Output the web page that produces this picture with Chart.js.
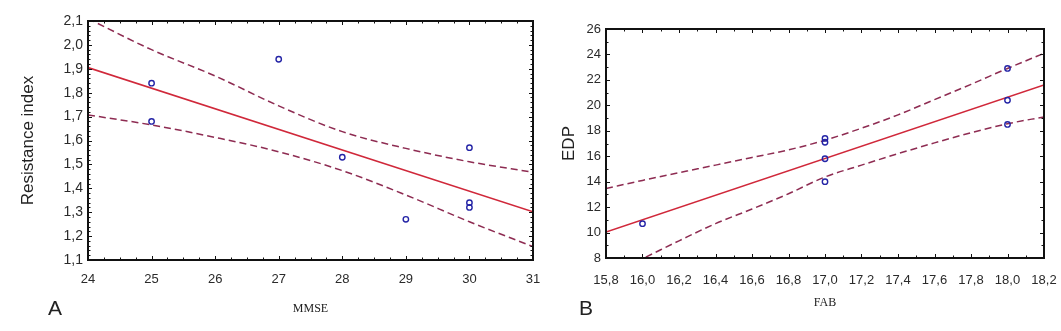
<!DOCTYPE html>
<html>
<head>
<meta charset="utf-8">
<script src="https://cdn.jsdelivr.net/npm/chart.js@4.4.1/dist/chart.umd.min.js"></script>
<style>
  html, body { margin:0; padding:0; background:#fff; }
  #wrap { position:relative; width:1061px; height:331px; overflow:hidden; background:#fff; }
  canvas { position:absolute; top:0; }
  #cA { left:0; }
  #cB { left:540px; }
  .lbl { position:absolute; font-family:"Liberation Sans", Arial, sans-serif; font-size:21px; color:#222; line-height:1; }
</style>
</head>
<body>
<div id="wrap">
  <canvas id="cA" width="540" height="331"></canvas>
  <canvas id="cB" width="521" height="331"></canvas>
  <div class="lbl" style="left:48px; top:297px;">A</div>
  <div class="lbl" style="left:579px; top:297px;">B</div>
</div>
<script>
// ---------- Panel A data ----------
const mmse = [25, 25, 27, 28, 29, 30, 30, 30];
const resistanceIndex = [1.84, 1.68, 1.94, 1.53, 1.27, 1.57, 1.34, 1.32];
const fitAX = [24, 31];
const fitAY = [1.905, 1.302];
const bandAX = [24, 25, 26, 27, 28, 29, 30, 31];
const upperA = [2.11, 1.98, 1.87, 1.745, 1.637, 1.567, 1.511, 1.467];
const lowerA = [1.707, 1.665, 1.613, 1.553, 1.474, 1.372, 1.26, 1.156];
const xTicksA = [24, 25, 26, 27, 28, 29, 30, 31];
const xTickLabelsA = ['24', '25', '26', '27', '28', '29', '30', '31'];
const yTicksA = [1.1, 1.2, 1.3, 1.4, 1.5, 1.6, 1.7, 1.8, 1.9, 2.0, 2.1];
const yTickLabelsA = ['1,1', '1,2', '1,3', '1,4', '1,5', '1,6', '1,7', '1,8', '1,9', '2,0', '2,1'];

// ---------- Panel B data ----------
const fab = [16.0, 17.0, 17.0, 17.0, 17.0, 18.0, 18.0, 18.0];
const edp = [10.7, 17.4, 17.1, 15.8, 14.0, 22.9, 20.4, 18.5];
const fitBX = [15.8, 18.2];
const fitBY = [10.04, 21.6];
const bandBX = [15.8, 16.0, 16.2, 16.4, 16.6, 16.8, 17.0, 17.2, 17.4, 17.6, 17.8, 18.0, 18.2];
const upperB = [13.46, 14.1, 14.7, 15.3, 15.9, 16.5, 17.26, 18.2, 19.25, 20.45, 21.65, 22.9, 24.09];
const lowerB = [6.6, 7.95, 9.35, 10.7, 11.85, 13.05, 14.37, 15.3, 16.2, 17.05, 17.85, 18.55, 19.09];
const xTicksB = [15.8, 16.0, 16.2, 16.4, 16.6, 16.8, 17.0, 17.2, 17.4, 17.6, 17.8, 18.0, 18.2];
const xTickLabelsB = ['15,8', '16,0', '16,2', '16,4', '16,6', '16,8', '17,0', '17,2', '17,4', '17,6', '17,8', '18,0', '18,2'];
const yTicksB = [8, 10, 12, 14, 16, 18, 20, 22, 24, 26];
const yTickLabelsB = ['8', '10', '12', '14', '16', '18', '20', '22', '24', '26'];

// ---------- styles ----------
const POINT_COLOR = '#2424a6';
const FIT_COLOR = '#d0283a';
const BAND_COLOR = '#8e2c52';
const TICK_FONT = { family: '"Liberation Sans", Arial, sans-serif', size: 13 };
const TICK_COLOR = '#2a2a2a';

const zip = (xs, ys) => xs.map((x, i) => ({ x: x, y: ys[i] }));

// Frame + inward tick marks drawn through the chart's scales
const frameTicks = {
  id: 'frameTicks',
  afterDatasetsDraw(chart, args, opts) {
    const { ctx, chartArea: a, scales } = chart;
    const xs = scales.x, ys = scales.y;
    ctx.save();
    ctx.strokeStyle = '#111';
    ctx.lineWidth = 1;
    const steps = (min, max, step) => {
      const n = Math.round((max - min) / step);
      const out = [];
      for (let i = 0; i <= n; i++) out.push(min + i * step);
      return out;
    };
    const isMajor = (v, base, major) => Math.abs(((v - base) / major) - Math.round((v - base) / major)) < 1e-6;
    ctx.beginPath();
    steps(xs.min, xs.max, opts.xMinor).forEach(v => {
      const px = Math.round(xs.getPixelForValue(v)) + 0.5;
      const len = isMajor(v, xs.min, opts.xMajor) ? 4 : 2.5;
      ctx.moveTo(px, a.bottom); ctx.lineTo(px, a.bottom - len);
      ctx.moveTo(px, a.top); ctx.lineTo(px, a.top + len);
    });
    steps(ys.min, ys.max, opts.yMinor).forEach(v => {
      const py = Math.round(ys.getPixelForValue(v)) + 0.5;
      const len = isMajor(v, ys.min, opts.yMajor) ? 4 : 2.5;
      ctx.moveTo(a.left, py); ctx.lineTo(a.left + len, py);
      ctx.moveTo(a.right, py); ctx.lineTo(a.right - len, py);
    });
    ctx.stroke();
    ctx.lineWidth = 2;
    ctx.strokeRect(a.left, a.top, a.right - a.left, a.bottom - a.top);
    ctx.restore();
  }
};

function makeChart(id, cfg) {
  return new Chart(document.getElementById(id), {
    type: 'scatter',
    data: {
      datasets: [
        { data: zip(cfg.px, cfg.py), pointStyle: 'circle', pointRadius: 2.7, pointBorderWidth: 1.4,
          borderColor: POINT_COLOR, backgroundColor: 'rgba(0,0,0,0)', showLine: false },
        { data: zip(cfg.fx, cfg.fy), showLine: true, pointRadius: 0, borderColor: FIT_COLOR, borderWidth: 1.6 },
        { data: zip(cfg.bx, cfg.up), showLine: true, pointRadius: 0, borderColor: BAND_COLOR, borderWidth: 1.5,
          borderDash: [7, 4], cubicInterpolationMode: 'monotone' },
        { data: zip(cfg.bx, cfg.lo), showLine: true, pointRadius: 0, borderColor: BAND_COLOR, borderWidth: 1.5,
          borderDash: [7, 4], cubicInterpolationMode: 'monotone' }
      ]
    },
    options: {
      responsive: false,
      animation: false,
      events: [],
      layout: { padding: { left: 0, top: cfg.top, right: cfg.right, bottom: 0 } },
      plugins: {
        legend: { display: false },
        tooltip: { enabled: false },
        frameTicks: cfg.ticks
      },
      scales: {
        x: {
          type: 'linear', min: cfg.xmin, max: cfg.xmax,
          grid: { display: false, drawTicks: false },
          border: { display: false },
          afterBuildTicks: s => { s.ticks = cfg.xt.map(v => ({ value: v })); },
          afterFit: s => { s.height = cfg.xh; s.paddingLeft = 0; s.paddingRight = 0; },
          ticks: { font: TICK_FONT, color: TICK_COLOR, padding: cfg.xpad, maxRotation: 0, autoSkip: false,
                   callback: (v, i) => cfg.xl[i] },
          title: { display: true, text: cfg.xtitle, color: '#222',
                   font: { family: '"Liberation Serif", "Times New Roman", serif', size: 12 },
                   padding: { top: 0, bottom: cfg.xtpad } }
        },
        y: {
          type: 'linear', min: cfg.ymin, max: cfg.ymax,
          grid: { display: false, drawTicks: false },
          border: { display: false },
          afterBuildTicks: s => { s.ticks = cfg.yt.map(v => ({ value: v })); },
          afterFit: s => { s.width = cfg.yw; s.paddingTop = 0; s.paddingBottom = 0; },
          ticks: { font: cfg.yfont, color: TICK_COLOR, padding: 5, autoSkip: false,
                   callback: (v, i) => cfg.yl[i] },
          title: { display: true, text: cfg.ytitle, color: '#222',
                   font: { family: '"Liberation Sans", Arial, sans-serif', size: 17 },
                   padding: { top: cfg.ytpad, bottom: 0 } }
        }
      }
    },
    plugins: [frameTicks]
  });
}

makeChart('cA', {
  px: mmse, py: resistanceIndex, fx: fitAX, fy: fitAY, bx: bandAX, up: upperA, lo: lowerA,
  xmin: 24, xmax: 31, ymin: 1.1, ymax: 2.1,
  xt: xTicksA, xl: xTickLabelsA, yt: yTicksA, yl: yTickLabelsA,
  top: 21, right: 7, xh: 71, yw: 88, xpad: 12, xtpad: 15, ytpad: 18,
  yfont: { family: '"Liberation Sans", Arial, sans-serif', size: 14 },
  xtitle: 'MMSE', ytitle: 'Resistance index',
  ticks: { xMinor: 0.25, xMajor: 1, yMinor: 0.02, yMajor: 0.1 }
});

makeChart('cB', {
  px: fab, py: edp, fx: fitBX, fy: fitBY, bx: bandBX, up: upperB, lo: lowerB,
  xmin: 15.8, xmax: 18.2, ymin: 8, ymax: 26,
  xt: xTicksB, xl: xTickLabelsB, yt: yTicksB, yl: yTickLabelsB,
  top: 29, right: 17, xh: 73, yw: 66, xpad: 15, xtpad: 21, ytpad: 19,
  yfont: TICK_FONT,
  xtitle: 'FAB', ytitle: 'EDP',
  ticks: { xMinor: 0.1, xMajor: 0.2, yMinor: 1, yMajor: 2 }
});
</script>
</body>
</html>
